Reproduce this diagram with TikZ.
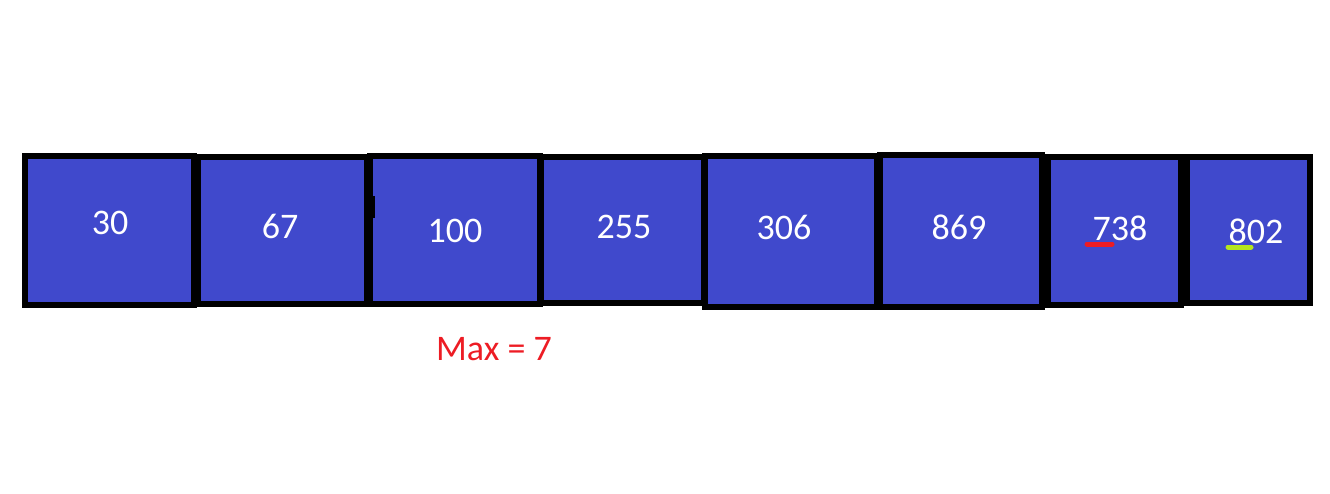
\documentclass[tikz,border=0pt]{standalone}
\usepackage{fontspec}
\setmainfont{Carlito}
\definecolor{cellblue}{RGB}{64,73,204}
\definecolor{maxred}{RGB}{237,28,36}
\definecolor{markgreen}{RGB}{181,230,29}
\tikzset{
  cell/.style={draw=black,fill=cellblue,line width=6pt},
  num/.style={text=white,inner sep=0pt,font=\fontsize{36}{40}\selectfont}
}
\begin{document}
\begin{tikzpicture}[x=1pt,y=-1pt]
\useasboundingbox(0,0)rectangle(1330,493);
% the eight cells, left to right
\foreach \i/\xa/\ya/\xb/\yb/\v/\tx/\ty in {
  1/25/156/194/305/30/110/223,
  2/198/157/367/304/67/280/226,
  3/370/156/540/304/100/455/231,
  4/541/157/704/303/255/624/227,
  5/705/156/877/307/306/784/227,
  6/880/155/1042/307/869/959/227,
  7/1048/157/1181/305/738/1120/228,
  8/1187/157/1310/303/802/1256/231}{
  \draw[cell](\xa,\ya)rectangle(\xb,\yb);
  \node[num](n\i)at(\tx,\ty){\v};
}
\fill(367,196)rectangle(375,218);
% marks under the leading digits
\draw[maxred,line width=5pt,line cap=round](1087,244)--(1112,244);
\draw[markgreen,line width=5pt,line cap=round](1228,247)--(1251,247);
\node[text=maxred,inner sep=0pt,font=\fontsize{36}{40}\selectfont](maxlbl)at(494,349){Max = 7};
\end{tikzpicture}
\end{document}
